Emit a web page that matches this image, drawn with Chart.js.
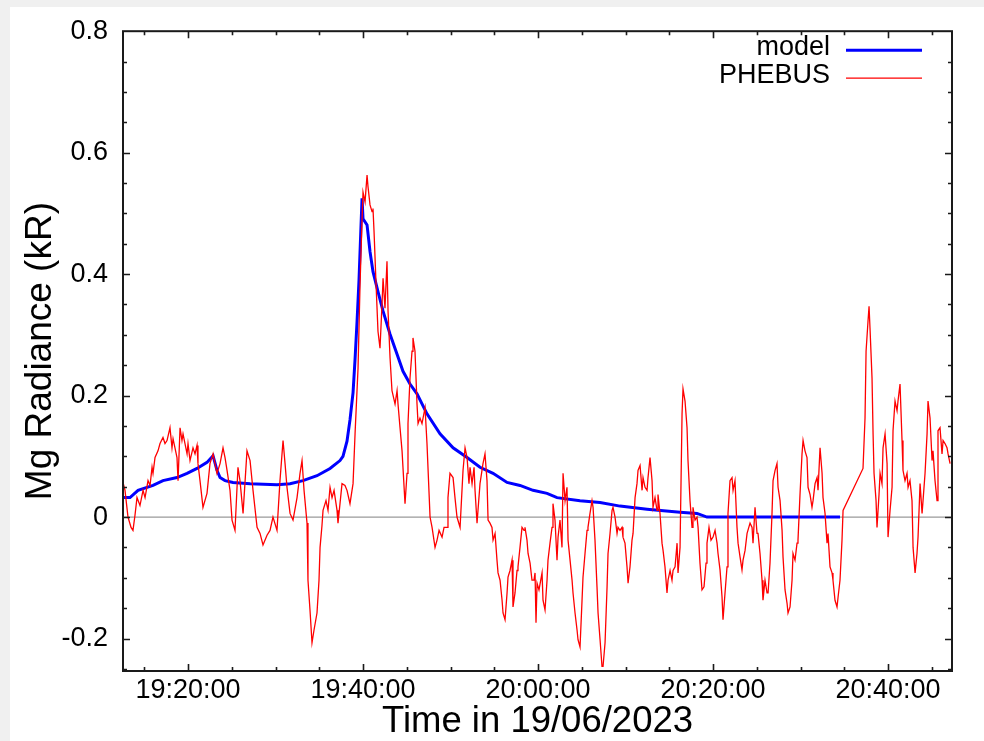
<!DOCTYPE html>
<html>
<head>
<meta charset="utf-8">
<title>Mg Radiance</title>
<script src="https://cdn.jsdelivr.net/npm/chart.js@4.4.0/dist/chart.umd.min.js"></script>
<style>
  html, body { margin: 0; padding: 0; background: #f0f0f0; }
  #sheet { position: absolute; left: 10px; top: 7px; width: 974px; height: 734px; background: #fff; }
  #plot { position: absolute; left: 0; top: 0; }
</style>
</head>
<body>
<div id="sheet"></div>
<canvas id="plot" width="984" height="741"></canvas>
<script>
// minutes after 19:00 on 19/06/2023, values in kR
const PHEBUS_MIN = [
  12.57, 12.8, 13.14, 13.49, 13.71, 13.94, 14.17, 14.51, 14.86, 15.09, 15.43, 15.66, 15.89, 16.0, 16.23, 16.57,
  16.8, 17.14, 17.37, 17.6, 17.94, 18.17, 18.29, 18.74, 18.86, 19.09, 19.31, 19.43, 19.89, 20.0, 20.23, 20.57,
  20.8, 21.03, 21.14, 21.37, 21.71, 22.17, 22.51, 22.86, 23.31, 23.66, 24.0, 24.23, 24.46, 24.8, 25.03, 25.37,
  25.71, 25.94, 26.29, 26.74, 27.09, 27.43, 27.89, 28.23, 28.57, 29.03, 29.37, 29.71, 30.17, 30.51, 30.86, 31.09,
  31.31, 31.66, 32.0, 32.46, 32.8, 33.03, 33.26, 33.6, 33.71, 33.94, 34.17, 34.4, 34.74, 34.97, 35.09, 35.31,
  35.43, 35.77, 36.0, 36.23, 36.46, 36.69, 37.03, 37.14, 37.37, 37.6, 37.94, 38.17, 38.51, 38.86, 39.09, 39.43,
  39.66, 39.89, 40.0, 40.23, 40.46, 40.57, 40.8, 41.03, 41.14, 41.26, 41.49, 41.71, 41.94, 42.17, 42.29, 42.51,
  42.74, 42.86, 43.09, 43.31, 43.66, 43.89, 44.0, 44.23, 44.46, 44.8, 45.03, 45.14, 45.37, 45.6, 45.71, 45.94,
  46.17, 46.29, 46.51, 46.74, 47.09, 47.31, 47.66, 47.89, 48.23, 48.46, 48.69, 49.03, 49.26, 49.6, 49.71, 49.94,
  50.29, 50.51, 50.74, 51.09, 51.43, 51.66, 51.89, 52.11, 52.23, 52.46, 52.69, 52.8, 53.03, 53.37, 53.71, 53.94,
  54.17, 54.29, 54.51, 54.74, 54.86, 55.09, 55.31, 55.43, 55.66, 55.89, 56.0, 56.23, 56.46, 56.57, 56.8, 57.03,
  57.14, 57.37, 57.6, 57.71, 57.94, 58.17, 58.4, 58.51, 58.74, 58.86, 59.09, 59.31, 59.54, 59.66, 59.77, 59.89,
  60.11, 60.46, 60.57, 60.8, 61.03, 61.14, 61.37, 61.6, 61.71, 61.94, 62.17, 62.29, 62.51, 62.74, 62.86, 63.09,
  63.31, 63.43, 63.66, 63.89, 64.0, 64.23, 64.46, 64.57, 64.8, 65.03, 65.14, 65.37, 65.6, 65.71, 65.94, 66.17,
  66.29, 66.51, 66.74, 66.86, 67.09, 67.31, 67.43, 67.66, 67.89, 68.0, 68.23, 68.46, 68.57, 68.8, 69.03, 69.14,
  69.37, 69.6, 69.71, 69.94, 70.17, 70.29, 70.51, 70.74, 70.86, 71.09, 71.31, 71.43, 71.66, 71.89, 72.0, 72.23,
  72.46, 72.57, 72.8, 73.03, 73.14, 73.37, 73.6, 73.71, 73.94, 74.17, 74.29, 74.51, 74.74, 74.86, 75.09, 75.31,
  75.43, 75.66, 75.89, 76.0, 76.23, 76.46, 76.57, 76.8, 77.03, 77.14, 77.37, 77.6, 77.71, 77.94, 78.17, 78.29,
  78.51, 78.74, 78.97, 79.2, 79.31, 79.54, 79.77, 80.0, 80.23, 80.46, 80.57, 80.8, 81.03, 81.14, 81.37, 81.6,
  81.71, 81.94, 82.17, 82.29, 82.51, 82.74, 82.86, 83.09, 83.31, 83.43, 83.66, 83.89, 84.23, 84.46, 84.57, 84.8,
  85.03, 85.14, 85.37, 85.6, 85.71, 85.94, 86.17, 86.29, 86.51, 86.74, 86.86, 87.09, 87.31, 87.43, 87.66, 87.89,
  88.0, 88.23, 88.46, 88.57, 88.8, 89.03, 89.14, 89.37, 89.6, 89.71, 89.94, 90.17, 90.29, 90.51, 90.74, 90.86,
  91.09, 91.31, 91.43, 91.66, 91.89, 92.0, 92.23, 92.46, 92.57, 92.8, 93.03, 93.14, 93.37, 93.6, 93.71, 93.94,
  94.17, 94.29, 94.51, 94.74, 94.86, 97.14, 97.37, 97.49, 97.71, 97.83, 97.94, 98.17, 98.29, 98.4, 98.63, 98.74,
  98.97, 99.09, 99.31, 99.43, 99.66, 99.89, 100.0, 100.23, 100.46, 100.57, 100.8, 101.03, 101.14, 101.37, 101.6, 101.71,
  101.94, 102.17, 102.29, 102.51, 102.74, 102.86, 103.09, 103.31, 103.43, 103.66, 103.89, 104.0, 104.23, 104.46, 104.57, 104.8,
  105.03, 105.14, 105.37, 105.6, 105.71, 105.94, 106.17, 106.29, 106.51, 106.74, 106.86, 107.09
];
const PHEBUS_KR = [
  0.057, 0.044, 0.0, -0.017, -0.022, 0.003, 0.032, 0.019, 0.044, 0.032, 0.060, 0.052, 0.082, 0.072, 0.098, 0.109,
  0.121, 0.131, 0.121, 0.126, 0.147, 0.114, 0.129, 0.098, 0.060, 0.147, 0.126, 0.137, 0.104, 0.121, 0.093, 0.114,
  0.104, 0.118, 0.088, 0.060, 0.016, 0.039, 0.088, 0.104, 0.072, 0.088, 0.114, 0.098, 0.077, 0.044, -0.005, -0.022,
  0.082, 0.060, 0.006, 0.109, 0.093, 0.044, -0.017, -0.027, -0.046, -0.030, -0.022, 0.0, -0.022, 0.060, 0.126, 0.088,
  0.049, 0.006, -0.005, 0.032, 0.072, 0.093, 0.044, -0.010, -0.104, -0.153, -0.207, -0.186, -0.158, -0.104, -0.050, -0.014,
  0.011, 0.027, 0.011, 0.049, 0.032, 0.044, 0.011, -0.010, 0.022, 0.055, 0.052, 0.044, 0.022, 0.055, 0.137, 0.245,
  0.383, 0.491, 0.535, 0.519, 0.563, 0.544, 0.514, 0.503, 0.508, 0.470, 0.383, 0.306, 0.278, 0.350, 0.393, 0.344,
  0.421, 0.339, 0.262, 0.208, 0.186, 0.208, 0.186, 0.147, 0.109, 0.022, 0.072, 0.154, 0.229, 0.273, 0.295, 0.273,
  0.186, 0.154, 0.163, 0.154, 0.180, 0.121, 0.0, -0.017, -0.050, -0.038, -0.022, -0.033, -0.017, -0.017, 0.032, 0.072,
  0.065, 0.032, 0.0, -0.017, 0.077, 0.114, 0.098, 0.055, 0.082, 0.055, 0.082, 0.044, -0.010, 0.055, 0.088, 0.104,
  0.060, -0.005, -0.010, -0.017, -0.038, -0.027, -0.071, -0.092, -0.104, -0.137, -0.158, -0.169, -0.125, -0.099, -0.088, -0.071,
  -0.148, -0.125, -0.088, -0.082, -0.050, -0.017, -0.022, -0.017, -0.038, -0.060, -0.076, -0.104, -0.104, -0.092, -0.174, -0.109,
  -0.120, -0.092, -0.137, -0.153, -0.104, -0.071, -0.043, -0.017, 0.022, -0.005, -0.071, -0.033, -0.005, -0.050, 0.072, 0.027,
  0.049, -0.038, -0.071, -0.104, -0.125, -0.158, -0.186, -0.202, -0.214, -0.137, -0.099, -0.060, -0.022, -0.017, 0.006, 0.027,
  0.016, -0.038, -0.115, -0.158, -0.202, -0.246, -0.246, -0.207, -0.115, -0.060, -0.027, 0.011, 0.016, 0.0, -0.027, -0.017,
  -0.022, -0.017, -0.033, -0.043, -0.082, -0.109, -0.082, -0.038, -0.027, 0.032, 0.055, 0.077, 0.085, 0.044, 0.065, 0.049,
  0.044, 0.065, 0.098, 0.060, 0.016, 0.032, 0.011, 0.037, 0.006, -0.043, -0.055, -0.082, -0.125, -0.104, -0.088, -0.104,
  -0.088, -0.082, -0.043, -0.092, -0.050, 0.170, 0.211, 0.191, 0.147, 0.093, 0.027, -0.017, 0.016, -0.005, 0.0, -0.017,
  -0.076, -0.120, -0.115, -0.076, -0.043, -0.017, -0.038, -0.033, -0.022, -0.043, -0.060, -0.087, -0.132, -0.169, -0.125, -0.082,
  0.006, 0.060, 0.065, 0.044, 0.060, -0.017, -0.043, -0.066, -0.087, -0.071, -0.055, -0.027, -0.010, -0.017, -0.043, 0.016,
  -0.027, -0.027, -0.060, -0.104, -0.137, -0.104, -0.125, -0.125, -0.076, 0.006, 0.060, 0.077, 0.088, 0.049, 0.027, -0.022,
  -0.066, -0.120, -0.142, -0.158, -0.148, -0.104, -0.060, -0.071, -0.043, -0.038, 0.037, 0.104, 0.126, 0.109, 0.098, 0.049,
  0.037, 0.016, 0.027, 0.055, 0.065, 0.044, 0.114, 0.072, 0.032, 0.006, -0.043, -0.027, -0.082, -0.092, -0.104, -0.137,
  -0.148, -0.132, -0.104, -0.038, 0.011, 0.080, 0.163, 0.273, 0.322, 0.347, 0.311, 0.229, 0.137, 0.072, 0.027, -0.017,
  0.037, 0.072, 0.055, 0.114, 0.137, 0.088, -0.033, 0.011, 0.049, 0.142, 0.191, 0.175, 0.191, 0.219, 0.126, 0.077,
  0.060, 0.072, 0.049, 0.060, 0.027, -0.050, -0.092, -0.060, -0.033, 0.055, 0.006, 0.027, 0.072, 0.137, 0.191, 0.163,
  0.093, 0.109, 0.060, 0.027, 0.142, 0.147, 0.104, 0.126, 0.121, 0.114, 0.104, 0.088
];

const MODEL_MIN = [
  12.57, 13.37, 14.29, 16.0, 17.14, 18.74, 19.89, 21.03, 22.17, 22.86, 23.31, 23.66, 24.23, 25.14, 27.09, 30.17,
  31.66, 33.14, 34.74, 36.23, 37.37, 37.71, 38.17, 38.51, 38.86, 39.09, 39.31, 39.54, 39.77, 39.89, 40.0, 40.46,
  40.8, 41.14, 41.71, 42.29, 43.09, 43.89, 44.57, 45.37, 46.17, 47.31, 48.8, 50.29, 51.89, 53.37, 54.86, 56.46,
  57.94, 59.43, 61.03, 62.17, 64.8, 67.09, 69.37, 72.46, 76.23, 78.17, 79.31, 94.51
];
const MODEL_KR = [
  0.032, 0.032, 0.044, 0.052, 0.060, 0.065, 0.072, 0.080, 0.090, 0.101, 0.077, 0.065, 0.060, 0.057, 0.055, 0.053,
  0.055, 0.060, 0.068, 0.080, 0.093, 0.100, 0.125, 0.160, 0.205, 0.260, 0.320, 0.390, 0.480, 0.525, 0.491, 0.481,
  0.437, 0.404, 0.371, 0.339, 0.301, 0.268, 0.240, 0.219, 0.203, 0.170, 0.137, 0.114, 0.098, 0.082, 0.072, 0.057,
  0.052, 0.044, 0.039, 0.032, 0.027, 0.024, 0.018, 0.013, 0.008, 0.006, 0.0, 0.0
];

const START_MIN = 19 * 60;
const X_MIN = START_MIN + 12.57;   // 19:12:34
const X_MAX = START_MIN + 107.31;  // 20:47:19
const Y_MIN = -0.2535;
const Y_MAX = 0.8;
const X_STEP = 5, X_LABEL_EVERY = 20;
const Y_STEP = 0.05, Y_LABEL_EVERY = 0.2;

const FONT = "'Liberation Sans', Arial, Helvetica, sans-serif";

const isMultiple = (v, step) => Math.abs(v / step - Math.round(v / step)) < 1e-6;

function clock(v) {
    const h = Math.floor(v / 60);
    const m = Math.round(v - h * 60);
    return `${h}:${String(m).padStart(2, '0')}:00`;
}

const toPoints = (mins, vals) => mins.map((m, i) => ({ x: START_MIN + m, y: vals[i] }));

// zero line under the data, inward ticks and the box over it
const framePlugin = {
    id: 'frame',
    beforeDatasetsDraw(chart) {
        const { ctx, chartArea: a, scales: { y } } = chart;
        const y0 = y.getPixelForValue(0);
        ctx.save();
        ctx.strokeStyle = '#9a9a9a';
        ctx.lineWidth = 1.3;
        ctx.beginPath();
        ctx.moveTo(a.left, y0);
        ctx.lineTo(a.right, y0);
        ctx.stroke();
        ctx.restore();
    },
    afterDatasetsDraw(chart) {
        const { ctx, chartArea: a, scales: { x, y } } = chart;
        ctx.save();
        ctx.strokeStyle = '#1a1a1a';
        ctx.lineWidth = 1.6;
        ctx.beginPath();
        x.ticks.forEach(t => {
            if (t.value <= x.min || t.value >= x.max) return;
            const px = Math.round(x.getPixelForValue(t.value)) + 0.5;
            const len = isMultiple(t.value, X_LABEL_EVERY) ? 7 : 4;
            ctx.moveTo(px, a.bottom); ctx.lineTo(px, a.bottom - len);
            ctx.moveTo(px, a.top); ctx.lineTo(px, a.top + len);
        });
        y.ticks.forEach(t => {
            if (t.value <= y.min || t.value >= y.max) return;
            const py = Math.round(y.getPixelForValue(t.value)) + 0.5;
            const len = isMultiple(t.value, Y_LABEL_EVERY) ? 7 : 4;
            ctx.moveTo(a.left, py); ctx.lineTo(a.left + len, py);
            ctx.moveTo(a.right, py); ctx.lineTo(a.right - len, py);
        });
        ctx.stroke();
        ctx.lineWidth = 2;
        ctx.strokeRect(a.left, a.top, a.right - a.left, a.bottom - a.top);
        ctx.restore();
    }
};

// legend in the top right corner: label text, then a line sample on its right
const legendPlugin = {
    id: 'cornerLegend',
    afterDraw(chart) {
        const { ctx, chartArea: a } = chart;
        ctx.save();
        ctx.font = `27px ${FONT}`;
        ctx.textAlign = 'right';
        ctx.textBaseline = 'alphabetic';
        chart.data.datasets.forEach((ds, i) => {
            const yLine = a.top + 19 + i * 28;
            ctx.fillStyle = '#000';
            ctx.fillText(ds.label, a.right - 122, yLine + 5);
            ctx.strokeStyle = ds.borderColor;
            ctx.lineWidth = ds.borderWidth;
            ctx.beginPath();
            ctx.moveTo(a.right - 106, yLine);
            ctx.lineTo(a.right - 30, yLine);
            ctx.stroke();
        });
        ctx.restore();
    }
};

const tickFont = { family: FONT, size: 27 };

new Chart(document.getElementById('plot'), {
    type: 'line',
    data: {
        datasets: [
            {
                label: 'model',
                data: toPoints(MODEL_MIN, MODEL_KR),
                borderColor: '#0000ff',
                borderWidth: 3,
                pointRadius: 0,
                tension: 0,
                order: 1
            },
            {
                label: 'PHEBUS',
                data: toPoints(PHEBUS_MIN, PHEBUS_KR),
                borderColor: '#ff0000',
                borderWidth: 1.3,
                pointRadius: 0,
                tension: 0,
                order: 0
            }
        ]
    },
    options: {
        responsive: false,
        animation: false,
        devicePixelRatio: 1,
        layout: { padding: { top: 31, right: 32, left: 0, bottom: 0 } },
        plugins: {
            legend: { display: false },
            tooltip: { enabled: false }
        },
        scales: {
            x: {
                type: 'linear',
                min: X_MIN,
                max: X_MAX,
                afterFit: s => { s.height = 70; },
                grid: { display: false, drawTicks: false },
                border: { display: false },
                ticks: {
                    stepSize: X_STEP,
                    includeBounds: false,
                    autoSkip: false,
                    maxRotation: 0,
                    padding: 3,
                    color: '#000',
                    font: tickFont,
                    callback: v => isMultiple(v, X_LABEL_EVERY) ? clock(v) : ''
                },
                title: {
                    display: true,
                    text: 'Time in 19/06/2023',
                    color: '#000',
                    font: { family: FONT, size: 36.5, lineHeight: 1 },
                    padding: { top: 0, bottom: 1 }
                }
            },
            y: {
                type: 'linear',
                min: Y_MIN,
                max: Y_MAX,
                afterFit: s => { s.width = 123; },
                grid: { display: false, drawTicks: false },
                border: { display: false },
                ticks: {
                    stepSize: Y_STEP,
                    includeBounds: false,
                    autoSkip: false,
                    padding: 15,
                    color: '#000',
                    font: tickFont,
                    callback: v => isMultiple(v, Y_LABEL_EVERY) ? (Math.abs(v) < 1e-9 ? '0' : v.toFixed(1)) : ''
                },
                title: {
                    display: true,
                    text: 'Mg Radiance (kR)',
                    color: '#000',
                    font: { family: FONT, size: 37, lineHeight: 1 },
                    padding: { top: 22, bottom: 0 }
                }
            }
        }
    },
    plugins: [framePlugin, legendPlugin]
});
</script>
</body>
</html>
